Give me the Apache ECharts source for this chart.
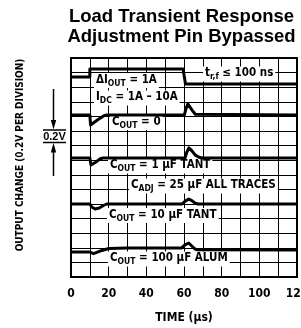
<!DOCTYPE html>
<html><head><meta charset="utf-8">
<script src="https://cdn.jsdelivr.net/npm/echarts@6/dist/echarts.min.js"></script>
<style>html,body{margin:0;padding:0;background:#fff}#c{width:301px;height:328px}</style>
</head><body><div id="c"></div>
<script>
// ---- data (x: time in µs, y: screen position in vertical divisions) ----
const titleLines = ['Load Transient Response', 'Adjustment Pin Bypassed'];
const xTickLabels = [0, 20, 40, 60, 80, 100, 120];
const xName = 'TIME (µs)';
const yName = 'OUTPUT CHANGE (0.2V PER DIVISION)';
const scaleLabel = '0.2V';

const tLoad = [0, 10, 10, 59.5, 60.8, 120];
const vLoad = [13.7, 13.7, 14.25, 14.25, 13.22, 13.22];

const tC0 = [0, 10, 10.4, 11.2, 14, 17.5, 19, 60.2, 61, 62, 63, 64.5, 66, 67, 120];
const vC0 = [11.1, 11.1, 10.41, 10.45, 10.75, 11.05, 11.1, 11.1, 11.5, 11.85, 11.75, 11.4, 11.15, 11.1, 11.1];

const tC1 = [0, 10, 10.6, 11.5, 13.5, 15.5, 17, 60.5, 61.5, 62.6, 63.8, 66, 68, 69.7, 120];
const vC1 = [8.15, 8.15, 7.67, 7.7, 7.9, 8.1, 8.15, 8.15, 8.55, 8.84, 8.7, 8.35, 8.2, 8.15, 8.15];

const tC10 = [0, 10, 11, 12.8, 15, 17, 19, 59, 60.5, 62.5, 64, 66, 67.5, 120];
const vC10 = [5.0, 5.0, 4.8, 4.66, 4.72, 4.88, 5.0, 5.0, 5.18, 5.34, 5.25, 5.05, 5.0, 5.0];

const tC100 = [0, 10, 10.4, 12, 16, 20, 30, 58.8, 60.5, 62.5, 63.5, 65.5, 67, 120];
const vC100 = [1.71, 1.71, 1.58, 1.6, 1.8, 1.95, 1.99, 1.99, 2.2, 2.33, 2.28, 1.95, 1.86, 1.85];

const traceLabels = [
  [['m', 'ΔI'], ['s', 'OUT'], ['m', ' = 1A']],
  [['m', 'I'], ['s', 'DC'], ['m', ' = 1A – 10A']],
  [['m', 't'], ['s', 'r,f'], ['m', ' ≤ 100 ns']],
  [['m', 'C'], ['s', 'OUT'], ['m', ' = 0']],
  [['m', 'C'], ['s', 'OUT'], ['m', ' = 1 µF TANT']],
  [['m', 'C'], ['s', 'ADJ'], ['m', ' = 25 µF ALL TRACES']],
  [['m', 'C'], ['s', 'OUT'], ['m', ' = 10 µF TANT']],
  [['m', 'C'], ['s', 'OUT'], ['m', ' = 100 µF ALUM']]
];
// ---- layout ----
const labelPos = [[94, 81], [94, 98.5], [203, 74.5], [110, 123], [108, 166.5], [129, 186.5], [107, 216], [108, 259.5]];

const NARROW = "'Liberation Sans Narrow','DejaVu Sans Condensed',sans-serif";
const ARIAL = "'Liberation Sans',Arial,sans-serif";

const zip = (a, b) => a.map((v, i) => [v, b[i]]);
const traces = [[tLoad, vLoad], [tC0, vC0], [tC1, vC1], [tC10, vC10], [tC100, vC100]];

const rich = {
  m: {fontFamily: NARROW, fontWeight: 'bold', fontSize: 11.5, lineHeight: 14, verticalAlign: 'top', fill: '#000'},
  s: {fontFamily: NARROW, fontWeight: 'bold', fontSize: 8.5, lineHeight: 10, padding: [5, 0, 0, 0], verticalAlign: 'top', fill: '#000'}
};

const graphic = [];
titleLines.forEach((t, i) => graphic.push({
  type: 'text', x: 181.5, y: 16.5 + i * 20, z: 5,
  style: {text: t, fill: '#000', font: "bold 18.5px " + ARIAL, align: 'center', verticalAlign: 'middle'}
}));
traceLabels.forEach((parts, i) => graphic.push({
  type: 'text', x: labelPos[i][0], y: labelPos[i][1] - 8, z: 1,
  style: {text: parts.map(p => '{' + p[0] + '|' + p[1] + '}').join(''), rich: rich,
    backgroundColor: '#fff', padding: [1, 2, 0, 2], align: 'left', verticalAlign: 'top'}
}));
graphic.push({type: 'text', x: 20, y: 155, rotation: Math.PI / 2, z: 5,
  style: {text: yName, fill: '#000', font: "bold 10px " + NARROW, align: 'center', verticalAlign: 'middle'}});
graphic.push({type: 'text', x: 184, y: 318, z: 5,
  style: {text: xName, fill: '#000', font: "bold 12px " + NARROW, align: 'center', verticalAlign: 'middle'}});
graphic.push({type: 'text', x: 54.5, y: 136.5, z: 5,
  style: {text: scaleLabel, fill: '#000', font: "bold 11px " + ARIAL, align: 'center', verticalAlign: 'middle'}});
const ls = {stroke: '#000', lineWidth: 1.5};
graphic.push({type: 'line', z: 5, shape: {x1: 43, y1: 130, x2: 66, y2: 130}, style: ls});
graphic.push({type: 'line', z: 5, shape: {x1: 43, y1: 142.5, x2: 66, y2: 142.5}, style: ls});
graphic.push({type: 'line', z: 5, shape: {x1: 53.5, y1: 89, x2: 53.5, y2: 124}, style: ls});
graphic.push({type: 'polygon', z: 5, shape: {points: [[50.8, 120], [56.2, 120], [53.5, 129.5]]}, style: {fill: '#000'}});
graphic.push({type: 'line', z: 5, shape: {x1: 53.5, y1: 148, x2: 53.5, y2: 176}, style: ls});
graphic.push({type: 'polygon', z: 5, shape: {points: [[50.8, 152.5], [56.2, 152.5], [53.5, 143]]}, style: {fill: '#000'}});

const chart = echarts.init(document.getElementById('c'), null, {renderer: 'canvas'});
chart.setOption({
  animation: false,
  backgroundColor: '#fff',
  grid: {left: 71, top: 58, width: 226, height: 219, show: true, borderColor: '#000', borderWidth: 2,
    backgroundColor: 'transparent', containLabel: false, outerBoundsMode: 'none'},
  xAxis: {
    type: 'value', min: 0, max: 120, interval: 10,
    axisLine: {show: false}, axisTick: {show: false},
    splitLine: {show: true, lineStyle: {color: '#000', width: 1}},
    axisLabel: {margin: 11, color: '#000', fontFamily: NARROW, fontWeight: 'bold', fontSize: 12,
      formatter: v => xTickLabels.indexOf(v) >= 0 ? String(v) : ''}
  },
  yAxis: {
    type: 'value', min: 0, max: 15, interval: 1,
    axisLine: {show: false}, axisTick: {show: false}, axisLabel: {show: false},
    splitLine: {show: true, lineStyle: {color: '#000', width: 1}}
  },
  series: traces.map(tr => ({
    type: 'line', data: zip(tr[0], tr[1]), showSymbol: false, symbol: 'none',
    lineStyle: {color: '#000', width: 3, join: 'round'}, z: 3
  })),
  graphic: graphic
});
</script></body></html>
